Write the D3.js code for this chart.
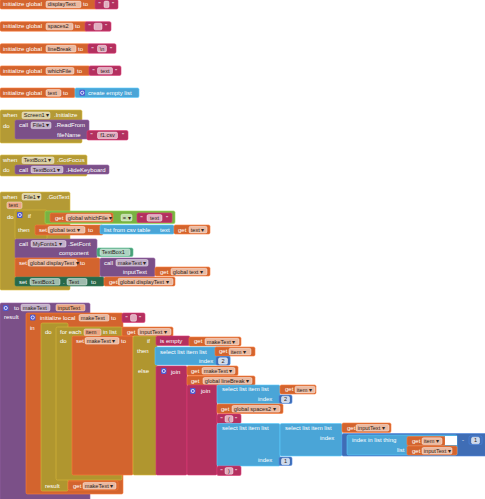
<!DOCTYPE html>
<html><head><meta charset="utf-8">
<script src="https://cdn.jsdelivr.net/npm/d3@7"></script>
<style>body{margin:0;background:#fff}svg{display:block}</style>
</head><body>
<svg id="c" width="485" height="499"></svg>
<script>
// ---------- text content ----------
const globalVarNames = ["displayText","spaces2","lineBreak","whichFile","text"];
const globalVarInitStrings = ["", "  ", "\\n", "text"];
const listBlockLabels = ["create empty list","list from csv table","select list item  list","index in list  thing"];
const eventComponents = ["Screen1","TextBox1","File1"];
const eventNames = [".Initialize",".GotFocus",".GotText"];
const componentNames = ["File1","TextBox1","MyFonts1","TextBox1"];
const methodNames = [".ReadFrom",".HideKeyboard",".SetFont"];
const socketNames = ["fileName","component","inputText","index","list"];
const stringValues = ["f1.csv","text","","(",")"];
const numberValues = ["2","2","1","1"];
const getNames = ["global whichFile","text","global text","global displayText","inputText","makeText","item","global lineBreak","global spaces2"];
const procNames = ["makeText"];
const paramNames = ["text","inputText","item"];

// ---------- styles ----------
const C = {var:"#D3642E", txt:"#B3305F", ctl:"#B0962F", evt:"#B49A35", proc:"#7B5088",
           list:"#4AA5D7", math:"#3F6DB5", logic:"#79B243", setc:"#28694A", compb:"#4A9E78"};
const FONT = "'Liberation Sans', Arial, sans-serif";

const blocks=[], labels=[], fields=[], gears=[], whites=[];
function B(c,x,y,w,h){blocks.push({c,x,y,w,h});}
function L(t,x,y){labels.push({t,x,y});}
function F(t,x,y,w,k){fields.push({t,x,y,w,k:k||"dd"});}
function S(x,y,w,v,bw){B("txt",x,y,w,9.5); L('"',x+3.5,y+6.8); F(v,x+(w-bw)/2,y+1.6,bw,"str"); L('"',x+w-6,y+6.8);}
function N(v,x,y,w){B("math",x,y,w,8.5); F(v,x+2.5,y+1.2,w-5,"num");}
function G(x,y){gears.push({x,y});}

// ---------- global variable blocks ----------
const rowY = d3.scalePoint().domain(d3.range(globalVarNames.length)).range([-0.5,88]);
const gW=[97,87,90,90,75], gFW=[35,27,30,28,15], gTo=[83,75,78,77,63];
const gStr=[[95,23,5],[85,26,8],[88,28,9],[89,32,15]];
globalVarNames.forEach((n,i)=>{
  const y=rowY(i);
  B("var",0,y,gW[i],9.5);
  L("initialize global",3,y+6.8);
  F(n,46,y+1.6,gFW[i],"light");
  L("to",gTo[i],y+6.8);
  if(i<globalVarInitStrings.length){
    const s=gStr[i]; S(s[0],y,s[1],globalVarInitStrings[i],s[2]);
  } else {
    B("list",75,y,64,9.5); G(79.5,y+1.8); L(listBlockLabels[0],88,y+6.8);
  }
});

// ---------- when Screen1.Initialize ----------
B("evt",0,110,82,33);
L("when",3,117); F(eventComponents[0],22,112,28); L(eventNames[0],54,117);
L("do",3,128);
B("proc",15,120,74,19);
L("call",19,127); F(componentNames[0],31,122,20); L(methodNames[0],55,127);
L(socketNames[0],57,136.5);
S(87,130.5,41,stringValues[0],20);

// ---------- when TextBox1.GotFocus ----------
B("evt",0,155,87,21);
L("when",3,162); F(eventComponents[1],22,157,32); L(eventNames[1],57,162);
L("do",3,171.5);
B("proc",15,165,94,9);
L("call",19,171.5); F(componentNames[1],31,166.3,32); L(methodNames[1],66,171.5);

// ---------- when File1.GotText ----------
B("evt",0,192,70,98);
L("when",3,198.5); F(eventComponents[2],22,193.5,19); L(eventNames[2],47,198.5);
F(paramNames[0],7,202,15,"param");
L("do",7,219);
B("ctl",15,210,32,29); G(17,212); L("if",28,218); L("then",18,231.5);
B("logic",45,211,130,12.5);
B("var",50,213,63,9); L("get",55,219.5); F(getNames[0],66,214.3,45);
F("=",121,214.3,11);
S(137,213,35,stringValues[1],15);
B("var",35,225,68,10); L("set",39,231.8); F(getNames[2],48,226.5,37); L("to",88,231.8);
B("list",100,225,74,9); L(listBlockLabels[1],104,231.5); L("text",160,231.5);
B("var",174,225,36,9); L("get",178,231.5); F(getNames[1],189,226.3,18);
B("proc",15,239,82,19);
L("call",19,245.5); F(componentNames[2],31,240.5,35); L(methodNames[2],68,245.5);
L(socketNames[1],59,255);
B("compb",97,248,36,8.5); F(componentNames[3],100,249,30,"light");
B("var",15,258,85,19);
L("set",19,264.5); F(getNames[3],28,259.5,49); L("to",80,264.5);
B("proc",100,258,55,18.5);
L("call",104,264.5); F(procNames[0],116,259.5,32); L(socketNames[2],123,274);
B("var",155,267,55,9); L("get",160,273.5); F(getNames[2],171,268.3,36);
B("setc",15,277,89,9);
L("set",19,283.5); F(componentNames[1],30,278.5,30,"light"); L(".",63,283.5); F("Text",67,278.5,20,"light"); L("to",91,283.5);
B("var",104,277,71,9); L("get",109,283.5); F(getNames[3],118,278.3,55);

// ---------- procedure makeText ----------
B("proc",0,303,90,200);
G(3,305); L("to",14,310); F(procNames[0],21,304.3,29,"light"); F(paramNames[1],56,304.3,29,"param");
L("result",4,319);
B("var",26,313,97,181);
G(30,314.5); L("initialize local",40,319.5); F(getNames[5],79,314.5,30,"light"); L("to",111,319.5);
S(122,313,23,stringValues[2],6);
L("in",30,330);
B("ctl",41,323,27,168); L("do",45,334);
B("ctl",56,327,66,153);
L("for each",60,333.5); F(paramNames[2],84,329,17,"param"); L("in list",103,333.5);
B("var",122,327,51,9.5); L("get",127,333.5); F(getNames[4],138,328.5,33);
L("do",60,343);
L("result",45,488);
B("var",68,481,50,9); L("get",73,487.5); F(getNames[5],83,482.5,33);
B("var",72,336,61,139);
L("set",76,342.5); F(getNames[5],85,337.5,34); L("to",121,342.5);
B("ctl",133,336,24,139);
L("if",147,342.5); L("then",137,352.5); L("else",138,372.5);
B("txt",156,336,34,9.5); L("is empty",160,342.5);
B("var",189,337,52,9); L("get",194,343.3); F(getNames[5],205,338.3,34);
B("list",155,347,75,18); L(listBlockLabels[2],160,353.5);
B("var",215,347,40,9); L("get",219,353.3); F(getNames[6],229,348.3,22);
L(socketNames[3],199,363); N(numberValues[0],216,356.5,14);
B("txt",156,366,31,109); G(161,368); L("join",171,373.5);
B("var",187,366,51,9.5); L("get",191,372.5); F(getNames[5],202,367.5,33);
B("var",187,376,68,9.5); L("get",191,382.5); F(getNames[7],203,377.5,49);
B("txt",187,385,30,90); G(190,388); L("join",201,393);
B("list",217,385,63,18.5); L(listBlockLabels[2],222,391);
B("var",280,385,36,9); L("get",285,391.3); F(getNames[6],295,386.3,20);
L(socketNames[3],258,400.5); N(numberValues[1],279,395,13);
B("var",217,404,66,9.5); L("get",221,410.5); F(getNames[8],232,405.5,48);
S(217,414,24,stringValues[3],8);
B("list",217,423.5,63,42.5); L(listBlockLabels[2],222,430); L(socketNames[3],258,461.5); N(numberValues[3],279,457,13);
B("list",280,423.5,62,32.5); L(listBlockLabels[2],285,430); L(socketNames[3],320,440);
B("var",342,423,49,9.5); L("get",347,429.5); F(getNames[4],356,424.5,33);
B("math",342,433.5,145,22.5);
B("list",347,435,110,20); L(listBlockLabels[3],352,441.5); L(socketNames[4],397,451.5);
B("var",407,436.5,38,9); L("get",412,442.8); F(getNames[6],422,437.8,20);
whites.push({x:445,y:436,w:12,h:9});
L("-",462,441.5); N(numberValues[2],469,436,13);
B("var",407,446,50,9); L("get",412,452.5); F(getNames[4],422,447.5,30);
S(217,466,24,stringValues[4],8);

// ---------- render ----------
const svg=d3.select("#c");
svg.append("rect").attr("width",485).attr("height",499).attr("fill","#fff");
svg.append("g").selectAll("rect").data(blocks).join("rect")
  .attr("x",d=>d.x).attr("y",d=>d.y).attr("width",d=>d.w).attr("height",d=>d.h)
  .attr("rx",1.5).attr("fill",d=>C[d.c])
  .attr("stroke",d=>d3.color(C[d.c]).brighter(0.6)).attr("stroke-width",0.6);
svg.append("g").selectAll("rect").data(whites).join("rect")
  .attr("x",d=>d.x).attr("y",d=>d.y).attr("width",d=>d.w).attr("height",d=>d.h).attr("fill","#fff");
const fFill={dd:"rgba(255,255,255,0.55)",light:"rgba(255,255,255,0.55)",param:"#EBA583",str:"rgba(255,255,255,0.6)",num:"rgba(255,255,255,0.75)"};
const fg=svg.append("g").selectAll("g").data(fields).join("g");
fg.append("rect").attr("x",d=>d.x).attr("y",d=>d.y).attr("width",d=>d.w).attr("height",6.6)
  .attr("rx",1.5).attr("fill",d=>fFill[d.k]).attr("stroke","rgba(255,255,255,0.85)").attr("stroke-width",0.5);
fg.append("text").attr("x",d=>d.x+(d.k==="num"||d.k==="str"?d.w/2:1.8)).attr("y",d=>d.y+5.2)
  .attr("text-anchor",d=>(d.k==="num"||d.k==="str")?"middle":"start")
  .attr("font-family",FONT).attr("font-size",5.6).attr("fill","#2e2520")
  .text(d=>d.k==="dd"?d.t+" \u25BE":d.t);
const gg=svg.append("g").selectAll("g").data(gears).join("g");
gg.append("rect").attr("x",d=>d.x).attr("y",d=>d.y).attr("width",5.5).attr("height",6).attr("rx",1).attr("fill","#4E58D0");
gg.append("circle").attr("cx",d=>d.x+2.75).attr("cy",d=>d.y+3).attr("r",1.6).attr("fill","none").attr("stroke","#fff").attr("stroke-width",0.8);
svg.append("g").selectAll("text").data(labels).join("text")
  .attr("x",d=>d.x).attr("y",d=>d.y).attr("font-family",FONT).attr("font-size",6)
  .attr("fill","#fff").text(d=>d.t);
</script>
</body></html>
